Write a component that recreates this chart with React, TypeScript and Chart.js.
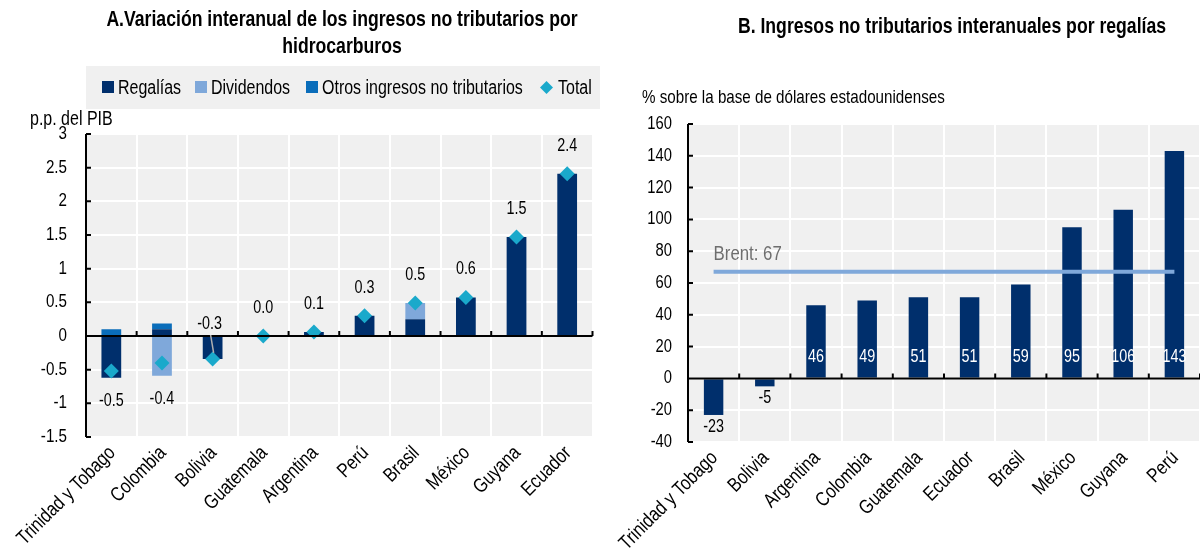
import React, { useEffect, useRef } from 'react';
import { Chart, registerables } from 'chart.js';

Chart.register(...registerables);

// ---------- Data: panel A ----------
const categoriesA = ['Trinidad y Tobago', 'Colombia', 'Bolivia', 'Guatemala', 'Argentina', 'Perú', 'Brasil', 'México', 'Guyana', 'Ecuador'];
const regaliasA = [-0.62, 0.10, -0.34, 0, 0.06, 0.30, 0.25, 0.57, 1.47, 2.41];
const dividendosA = [0, -0.59, 0, 0, 0, 0, 0.24, 0, 0, 0];
const otrosA = [0.10, 0.085, 0, 0, 0, 0, 0, 0, 0, 0];
const totalA = [-0.52, -0.40, -0.34, 0.0, 0.06, 0.30, 0.49, 0.57, 1.47, 2.41];
const yMinA = -1.5;
const yMaxA = 3;
const yStepA = 0.5;

// ---------- Data: panel B ----------
const categoriesB = ['Trinidad y Tobago', 'Bolivia', 'Argentina', 'Colombia', 'Guatemala', 'Ecuador', 'Brasil', 'México', 'Guyana', 'Perú'];
const regaliasB = [-23, -5, 46, 49, 51, 51, 59, 95, 106, 143];
const brentValue = 67;
const yMinB = -40;
const yMaxB = 160;
const yStepB = 20;

// ---------- Texts ----------
const titleA = ['A.Variación interanual de los ingresos no tributarios por', 'hidrocarburos'];
const titleB = 'B. Ingresos no tributarios interanuales por regalías';
const unitA = 'p.p. del PIB';
const unitB = '% sobre la base de dólares estadounidenses';
const seriesNames = ['Regalías', 'Dividendos', 'Otros ingresos no tributarios', 'Total'];

// ---------- Styles ----------
const FONT = '"Liberation Sans", Arial, sans-serif';
const SX = 0.82; // horizontal squeeze to imitate a narrow typeface
const C_REG = '#002F6C';
const C_DIV = '#7FA8DA';
const C_OTR = '#0A6DBA';
const C_TOT = '#1AA9CB';
const C_BRENT = '#7FA8DA';
const BG = '#F0F0F0';

function narrowText(
  ctx: CanvasRenderingContext2D,
  text: string,
  x: number,
  y: number,
  size: number,
  align: CanvasTextAlign,
  baseline: CanvasTextBaseline,
  color: string,
  rotate = 0
) {
  ctx.save();
  ctx.translate(x, y);
  if (rotate) ctx.rotate(rotate);
  ctx.scale(SX, 1);
  ctx.font = `${size}px ${FONT}`;
  ctx.fillStyle = color;
  ctx.textAlign = align;
  ctx.textBaseline = baseline;
  ctx.fillText(text, 0, 0);
  ctx.restore();
}

const bgPlugin = {
  id: 'bgArea',
  beforeDraw(chart: any) {
    const { ctx, chartArea: a } = chart;
    ctx.save();
    ctx.fillStyle = BG;
    ctx.fillRect(a.left, a.top, a.right - a.left, a.bottom - a.top);
    ctx.restore();
  },
};

function makeAxesPlugin(yLabelPad: number, yLabelSize: number) {
  return {
    id: 'axesDraw',
    afterDatasetsDraw(chart: any) {
      const { ctx, chartArea: a, scales } = chart;
      const x = scales.x;
      const y = scales.y;
      ctx.save();
      ctx.strokeStyle = '#000';
      ctx.lineWidth = 2;
      ctx.beginPath();
      ctx.moveTo(a.left, a.top);
      ctx.lineTo(a.left, a.bottom);
      y.ticks.forEach((_t: any, i: number) => {
        const py = y.getPixelForTick(i);
        ctx.moveTo(a.left, py);
        ctx.lineTo(a.left + 5, py);
      });
      const y0 = y.getPixelForValue(0);
      ctx.moveTo(a.left, y0);
      ctx.lineTo(a.right, y0);
      const n = chart.data.labels.length;
      for (let i = 1; i <= n; i++) {
        const px = x.getPixelForValue(i - 0.5);
        ctx.moveTo(px, y0);
        ctx.lineTo(px, y0 - 5);
      }
      ctx.stroke();
      ctx.restore();

      // y tick labels
      y.ticks.forEach((t: any, i: number) => {
        const py = y.getPixelForTick(i);
        const txt = String(Number(t.value.toFixed(2)));
        narrowText(ctx, txt, a.left - yLabelPad, py, yLabelSize, 'right', 'middle', '#000');
      });
      // x tick labels, rotated 45°
      chart.data.labels.forEach((lab: string, i: number) => {
        const px = x.getPixelForValue(i);
        narrowText(ctx, lab, px + 1, a.bottom + 13, 20, 'right', 'middle', '#000', -Math.PI / 4);
      });
    },
  };
}

const labelsAPlugin = {
  id: 'labelsA',
  afterDraw(chart: any) {
    const { ctx, scales } = chart;
    const x = scales.x;
    const y = scales.y;
    totalA.forEach((t, i) => {
      const parts = [regaliasA[i], dividendosA[i], otrosA[i]];
      const posTop = parts.filter((v) => v > 0).reduce((s, v) => s + v, 0);
      const negBot = parts.filter((v) => v < 0).reduce((s, v) => s + v, 0);
      const px = x.getPixelForValue(i);
      let py: number;
      let lx = px;
      if (t >= 0) {
        py = y.getPixelForValue(Math.max(t, posTop)) - 28;
      } else if (negBot < -0.45) {
        py = y.getPixelForValue(negBot) + 23;
      } else {
        lx = px - 3;
        py = y.getPixelForValue(0) - 12;
        ctx.save();
        ctx.strokeStyle = '#B0B0B0';
        ctx.lineWidth = 1.5;
        ctx.beginPath();
        ctx.moveTo(px - 2, y.getPixelForValue(0) - 1);
        ctx.lineTo(px + 1, y.getPixelForValue(t) - 6);
        ctx.stroke();
        ctx.restore();
      }
      narrowText(ctx, t.toFixed(1), lx, py, 17.5, 'center', 'middle', '#000');
    });
  },
};

const labelsBPlugin = {
  id: 'labelsB',
  afterDraw(chart: any) {
    const { ctx, scales } = chart;
    const x = scales.x;
    const y = scales.y;
    const y0 = y.getPixelForValue(0);
    regaliasB.forEach((v, i) => {
      const px = x.getPixelForValue(i);
      if (v >= 0) {
        narrowText(ctx, String(v), px, y0 - 21, 17.5, 'center', 'middle', '#fff');
      } else {
        narrowText(ctx, String(v), px, y.getPixelForValue(v) + 3, 17.5, 'center', 'top', '#000');
      }
    });
    narrowText(ctx, `Brent: ${brentValue}`, x.getPixelForValue(0), y.getPixelForValue(brentValue) - 18, 20.5, 'left', 'middle', '#6E6E6E');
  },
};

function scaleCommon(min: number, max: number, step: number, yWidth: number, xHeight: number) {
  return {
    x: {
      stacked: true,
      grid: { color: '#ffffff', lineWidth: 2, drawTicks: false, offset: true },
      border: { display: false },
      ticks: { display: false, autoSkip: false },
      afterFit: (s: any) => {
        s.height = xHeight;
        s.paddingLeft = 0;
        s.paddingRight = 0;
      },
    },
    y: {
      stacked: true,
      min,
      max,
      ticks: { stepSize: step, display: false },
      grid: { color: '#ffffff', lineWidth: 2, drawTicks: false },
      border: { display: false },
      afterFit: (s: any) => {
        s.width = yWidth;
        s.paddingTop = 0;
        s.paddingBottom = 0;
      },
    },
  };
}

function configA(): any {
  const bar = { stack: 's', barPercentage: 1, categoryPercentage: 0.39, order: 1, borderWidth: 0 };
  return {
    type: 'bar',
    data: {
      labels: categoriesA,
      datasets: [
        { ...bar, label: seriesNames[0], data: regaliasA, backgroundColor: C_REG },
        { ...bar, label: seriesNames[1], data: dividendosA, backgroundColor: C_DIV },
        { ...bar, label: seriesNames[2], data: otrosA, backgroundColor: C_OTR },
        {
          type: 'line',
          label: seriesNames[3],
          data: totalA,
          stack: 't',
          order: 0,
          showLine: false,
          pointStyle: 'rectRot',
          pointRadius: 7.5,
          pointBackgroundColor: C_TOT,
          pointBorderColor: C_TOT,
          pointBorderWidth: 0,
        },
      ],
    },
    options: {
      responsive: false,
      animation: false,
      devicePixelRatio: 1,
      layout: { padding: { left: 0, right: 0, top: 134, bottom: 0 } },
      plugins: { legend: { display: false }, title: { display: false }, tooltip: { enabled: false } },
      scales: scaleCommon(yMinA, yMaxA, yStepA, 86, 111),
    },
    plugins: [bgPlugin, makeAxesPlugin(19, 18.5), labelsAPlugin],
  };
}

function configB(): any {
  return {
    type: 'bar',
    data: {
      labels: categoriesB,
      datasets: [
        {
          label: 'Regalías',
          data: regaliasB,
          backgroundColor: C_REG,
          stack: 's',
          barPercentage: 1,
          categoryPercentage: 0.38,
          order: 1,
          borderWidth: 0,
        },
        {
          type: 'line',
          label: 'Brent',
          data: categoriesB.map(() => brentValue),
          stack: 'b',
          order: 0,
          borderColor: C_BRENT,
          borderWidth: 4,
          pointRadius: 0,
          fill: false,
        },
      ],
    },
    options: {
      responsive: false,
      animation: false,
      devicePixelRatio: 1,
      layout: { padding: { left: 0, right: 0, top: 124, bottom: 0 } },
      plugins: { legend: { display: false }, title: { display: false }, tooltip: { enabled: false } },
      scales: scaleCommon(yMinB, yMaxB, yStepB, 88, 106),
    },
    plugins: [bgPlugin, makeAxesPlugin(16, 18), labelsBPlugin],
  };
}

const textBase: React.CSSProperties = {
  position: 'absolute',
  fontFamily: FONT,
  color: '#000',
  whiteSpace: 'nowrap',
};

export default function App() {
  const refA = useRef<HTMLCanvasElement>(null);
  const refB = useRef<HTMLCanvasElement>(null);

  useEffect(() => {
    const a = new Chart(refA.current as HTMLCanvasElement, configA());
    const b = new Chart(refB.current as HTMLCanvasElement, configB());
    return () => {
      a.destroy();
      b.destroy();
    };
  }, []);

  const legendColors = [C_REG, C_DIV, C_OTR];
  const legendTextLeft = [118, 211, 322, 558];

  return (
    <div style={{ position: 'absolute', left: 0, top: 0, width: 1200, height: 548, background: '#fff', overflow: 'hidden' }}>
      <canvas ref={refA} width={600} height={548} style={{ position: 'absolute', left: 0, top: 0, width: 600, height: 548 }} />
      <canvas ref={refB} width={600} height={548} style={{ position: 'absolute', left: 600, top: 0, width: 600, height: 548 }} />

      <div
        style={{
          ...textBase,
          left: 42,
          top: 6,
          width: 600,
          textAlign: 'center',
          fontWeight: 'bold',
          fontSize: 21.5,
          lineHeight: '27px',
          transform: `scaleX(${SX})`,
          transformOrigin: 'center',
        }}
      >
        {titleA.map((l, i) => (
          <div key={i}>{l}</div>
        ))}
      </div>
      <div
        style={{
          ...textBase,
          left: 652,
          top: 12,
          width: 600,
          textAlign: 'center',
          fontWeight: 'bold',
          fontSize: 21.5,
          lineHeight: '28px',
          transform: `scaleX(${SX})`,
          transformOrigin: 'center',
        }}
      >
        {titleB}
      </div>

      <div style={{ position: 'absolute', left: 86, top: 66, width: 514, height: 43, background: BG }} />
      {seriesNames.map((name, i) => (
        <React.Fragment key={name}>
          {i < 3 ? (
            <div style={{ position: 'absolute', left: legendTextLeft[i] - 16, top: 81, width: 12, height: 12, background: legendColors[i] }} />
          ) : (
            <svg style={{ position: 'absolute', left: legendTextLeft[i] - 18, top: 80.5 }} width={13} height={13} viewBox="0 0 13 13">
              <polygon points="6.5,0 13,6.5 6.5,13 0,6.5" fill={C_TOT} />
            </svg>
          )}
          <div
            style={{
              ...textBase,
              left: legendTextLeft[i],
              top: 75,
              fontSize: 19.5,
              lineHeight: '24px',
              transform: `scaleX(${SX})`,
              transformOrigin: 'left center',
            }}
          >
            {name}
          </div>
        </React.Fragment>
      ))}

      <div style={{ ...textBase, left: 30, top: 106, fontSize: 19.5, lineHeight: '24px', transform: `scaleX(${SX})`, transformOrigin: 'left center' }}>
        {unitA}
      </div>
      <div style={{ ...textBase, left: 642, top: 85, fontSize: 18.5, lineHeight: '24px', transform: `scaleX(${SX})`, transformOrigin: 'left center' }}>
        {unitB}
      </div>
    </div>
  );
}
